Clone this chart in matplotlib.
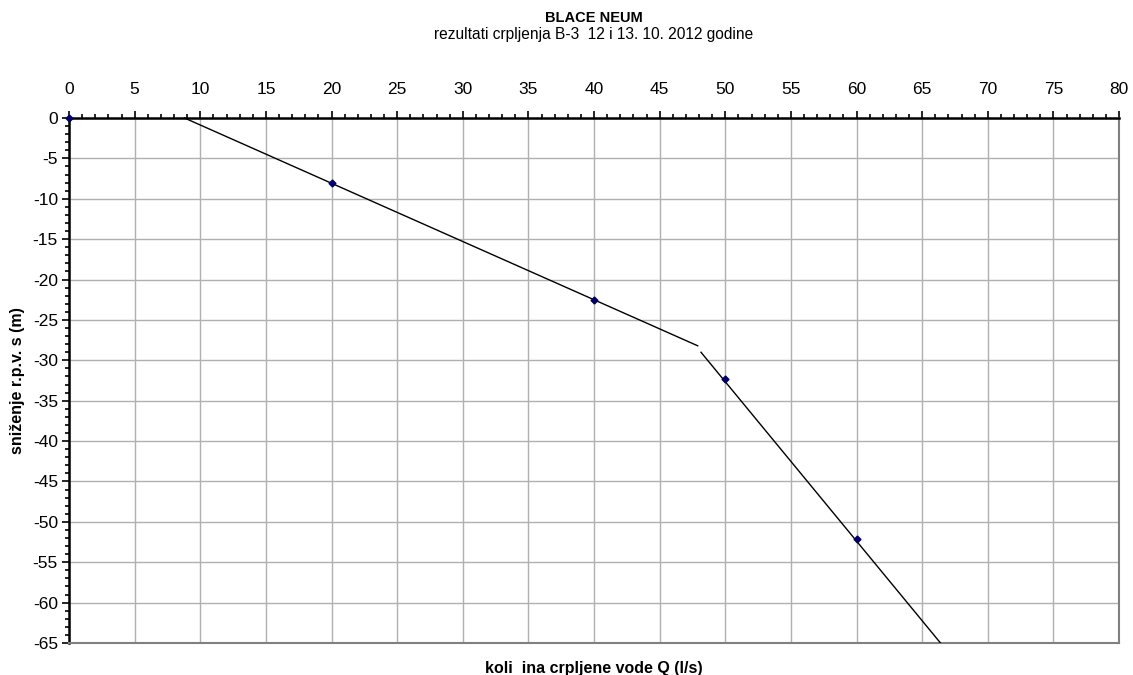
import matplotlib
matplotlib.use("Agg")
import matplotlib.pyplot as plt
from matplotlib.ticker import MultipleLocator

plt.rcParams['font.family'] = ['Liberation Sans', 'DejaVu Sans']
plt.rcParams['axes.unicode_minus'] = False

# data
q_points = [0, 20, 40, 50, 60]
s_points = [0, -8.1, -22.5, -32.3, -52.1]
trend1_q = [8.8, 47.9]
trend1_s = [0.0, -28.2]
trend2_q = [48.15, 66.4]
trend2_s = [-29.0, -65.0]
x_ticks = list(range(0, 81, 5))
y_ticks = list(range(0, -66, -5))

W, H = 1133, 675
fig = plt.figure(figsize=(W / 100, H / 100), dpi=100)
ax = fig.add_axes([69 / W, 1 - 643 / H, (1119 - 69) / W, (643 - 118) / H])

ax.set_xlim(0, 80)
ax.set_ylim(-65, 0)
ax.xaxis.set_ticks_position('top')
ax.xaxis.set_label_position('bottom')
ax.set_xticks(x_ticks)
ax.set_yticks(y_ticks)
ax.xaxis.set_minor_locator(MultipleLocator(1))
ax.yaxis.set_minor_locator(MultipleLocator(1))
ax.tick_params(axis='x', which='major', direction='out', length=5, width=1.2, labelsize=12.5, pad=10)
ax.tick_params(axis='x', which='minor', direction='out', length=3, width=1.2)
ax.tick_params(axis='y', which='major', direction='out', length=5, width=1.2, labelsize=12.5, pad=3)
ax.tick_params(axis='y', which='minor', direction='out', length=3, width=1.2)

ax.grid(True, which='major', color='#b0b0b0', linewidth=1.0)
ax.set_axisbelow(True)
for side in ['top', 'left']:
    ax.spines[side].set_color('black')
    ax.spines[side].set_linewidth(1.8)
for side in ['bottom', 'right']:
    ax.spines[side].set_color('#808080')
    ax.spines[side].set_linewidth(1.5)

ax.plot(trend1_q, trend1_s, color='black', linewidth=1.0, clip_on=False, zorder=3)
ax.plot(trend2_q, trend2_s, color='black', linewidth=1.0, zorder=3)
ax.plot(q_points, s_points, linestyle='none', marker='D', markersize=3.5,
        color='#000066', clip_on=False, zorder=4)

ax.set_ylabel('sniženje r.p.v. s (m)', fontsize=11.5, fontweight='bold')
ax.yaxis.set_label_coords((25 - 69) / 1050, 0.5)
fig.text(0.5 * (69 + 1119) / W, 1 - 668 / H, 'koli  ina crpljene vode Q (l/s)',
         ha='center', va='center', fontsize=11.5, fontweight='bold')

fig.text(0.5 * (69 + 1119) / W, 1 - 18 / H, 'BLACE NEUM', ha='center', va='center',
         fontsize=10.5, fontweight='bold')
fig.text(0.5 * (69 + 1119) / W, 1 - 34 / H, 'rezultati crpljenja B-3  12 i 13. 10. 2012 godine',
         ha='center', va='center', fontsize=11.2)

fig.savefig('out.png', dpi=100)
